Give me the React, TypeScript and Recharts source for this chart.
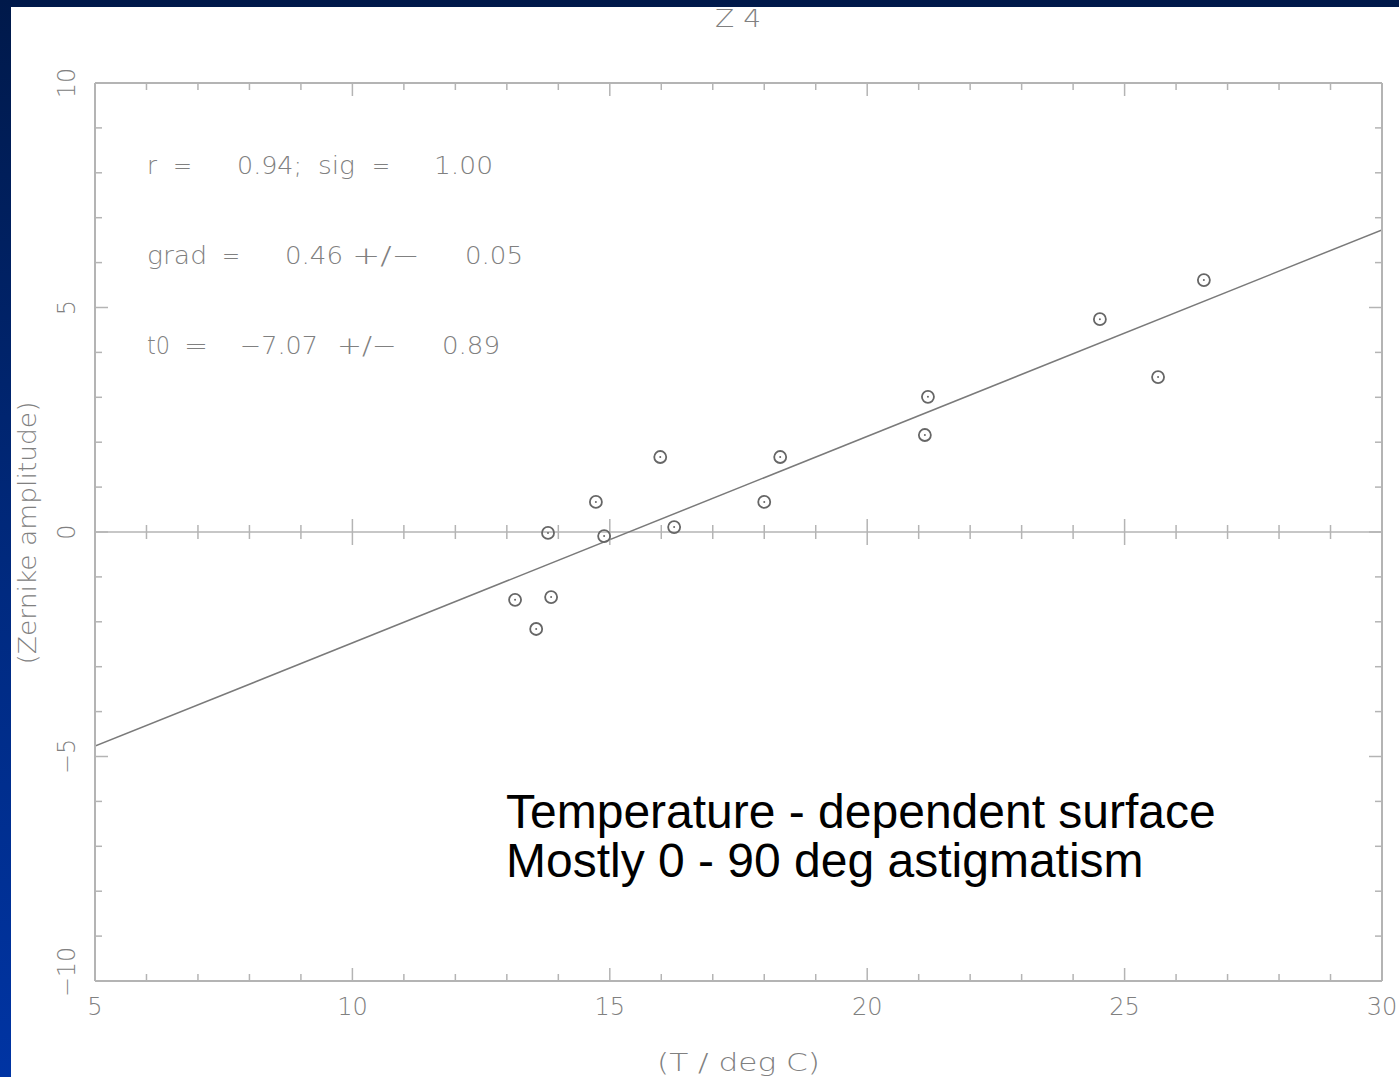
import { ComposedChart, XAxis, YAxis, Line, Scatter, ReferenceLine, Customized } from 'recharts'

// measured points (T in deg C, Zernike amplitude)
const temps = [13.16, 13.57, 13.8, 13.86, 14.73, 14.89, 15.98, 16.25, 18.0, 18.31, 21.12, 21.18, 24.52, 25.65, 26.54]
const amps = [-1.51, -2.16, -0.02, -1.45, 0.67, -0.09, 1.67, 0.11, 0.67, 1.67, 2.16, 3.01, 4.74, 3.45, 5.61]

// fitted line end points
const fitTemps = [5, 30]
const fitAmps = [-4.77, 6.73]

const xTicks = [5, 6, 7, 8, 9, 10, 11, 12, 13, 14, 15, 16, 17, 18, 19, 20, 21, 22, 23, 24, 25, 26, 27, 28, 29, 30]
const yTicks = [-10, -9, -8, -7, -6, -5, -4, -3, -2, -1, 0, 1, 2, 3, 4, 5, 6, 7, 8, 9, 10]

const points = temps.map((t, i) => ({ t, z: amps[i] }))
const fit = fitTemps.map((t, i) => ({ t, z: fitAmps[i] }))
const zeroTicks = xTicks.map((t) => ({ t, z: 0 }))

const AXIS = '#b4b4b4'
const INK = '#808080'
const FONT = '"DejaVu Sans", Verdana, sans-serif'

const fmt = (v: number) => (v < 0 ? '\u2212' + Math.abs(v) : String(v))
const isMajor = (v: number) => v % 5 === 0

function BottomTick({ x, y, payload }: any) {
  const v = payload.value
  return (
    <g>
      <line x1={x} x2={x} y1={y} y2={y - (isMajor(v) ? 13 : 7)} stroke={AXIS} strokeWidth={1.5} />
      {isMajor(v) && (
        <text x={x} y={y + 34} textAnchor="middle" fontSize={24} fontWeight={200} fill={INK} fontFamily={FONT}>
          {v}
        </text>
      )}
    </g>
  )
}

function TopTick({ x, y, payload }: any) {
  const v = payload.value
  return <line x1={x} x2={x} y1={y} y2={y + (isMajor(v) ? 13 : 7)} stroke={AXIS} strokeWidth={1.5} />
}

function LeftTick({ x, y, payload }: any) {
  const v = payload.value
  const lx = x - 28
  // bottom label sits a little above its tick, as in the original plot
  const ly = v === -10 ? y - 9 : y
  return (
    <g>
      <line x1={x} x2={x + (isMajor(v) ? 13 : 7)} y1={y} y2={y} stroke={AXIS} strokeWidth={1.5} />
      {isMajor(v) && (
        <text
          x={lx}
          y={ly}
          transform={`rotate(-90 ${lx} ${ly})`}
          textAnchor="middle"
          dominantBaseline="central"
          fontSize={24}
          fontWeight={200}
          fill={INK}
          fontFamily={FONT}
        >
          {fmt(v)}
        </text>
      )}
    </g>
  )
}

function RightTick({ x, y, payload }: any) {
  const v = payload.value
  return <line x1={x} x2={x - (isMajor(v) ? 13 : 7)} y1={y} y2={y} stroke={AXIS} strokeWidth={1.5} />
}

function Ring({ cx, cy }: any) {
  return (
    <g>
      <circle cx={cx} cy={cy} r={6} fill="none" stroke="#666" strokeWidth={1.8} />
      <circle cx={cx} cy={cy} r={1} fill="#666" />
    </g>
  )
}

function ZeroTick({ cx, cy, payload }: any) {
  const h = isMajor(payload.t) ? 13 : 7
  return <line x1={cx} x2={cx} y1={cy - h} y2={cy + h} stroke={AXIS} strokeWidth={1.5} />
}

const txt = { fontSize: 25, fontWeight: 200, fill: INK, fontFamily: FONT }

function Piece({ x, y, w, s }: { x: number; y: number; w: number; s: string }) {
  return (
    <text x={x} y={y} textLength={w} lengthAdjust="spacingAndGlyphs" {...txt}>
      {s}
    </text>
  )
}

function Overlay() {
  return (
    <g>
      <Piece x={715} y={27} w={46} s="Z 4" />
      <Piece x={147} y={174} w={10} s="r" />
      <Piece x={173} y={174} w={19} s="=" />
      <Piece x={237} y={174} w={65} s="0.94;" />
      <Piece x={318} y={174} w={37} s="sig" />
      <Piece x={372} y={174} w={18} s="=" />
      <Piece x={434} y={174} w={59} s="1.00" />
      <Piece x={147} y={264} w={60} s="grad" />
      <Piece x={222} y={264} w={18} s="=" />
      <Piece x={285} y={264} w={58} s="0.46" />
      <Piece x={352} y={264} w={68} s="+/−" />
      <Piece x={465} y={264} w={58} s="0.05" />
      <Piece x={147} y={354} w={23} s="t0" />
      <Piece x={184} y={354} w={24} s="=" />
      <Piece x={240} y={354} w={78} s="−7.07" />
      <Piece x={337} y={354} w={60} s="+/−" />
      <Piece x={442} y={354} w={58} s="0.89" />
      <Piece x={657} y={1071} w={163} s="(T / deg C)" />
      <text
        x={27}
        y={533}
        transform="rotate(-90 27 533)"
        textAnchor="middle"
        dominantBaseline="central"
        textLength={263}
        lengthAdjust="spacingAndGlyphs"
        {...txt}
      >
        (Zernike amplitude)
      </text>
      <text x={506} y={828} fontSize={48} fill="#000" fontFamily='"Liberation Sans", Arial, sans-serif'>
        Temperature - dependent surface
      </text>
      <text x={506} y={877} fontSize={48} fill="#000" fontFamily='"Liberation Sans", Arial, sans-serif'>
        Mostly 0 - 90 deg astigmatism
      </text>
    </g>
  )
}

export default function App() {
  return (
    <div
      style={{
        position: 'fixed',
        left: 0,
        top: 0,
        width: 1399,
        height: 1077,
        overflow: 'hidden',
        background: 'linear-gradient(to bottom, #00194a 0%, #002a80 55%, #0034a3 100%)',
      }}
    >
      <div style={{ position: 'absolute', left: 11, top: 7, right: 0, bottom: 0, background: '#fff' }} />
      <div style={{ position: 'absolute', left: 0, top: 0 }}>
        <ComposedChart width={1399} height={1077} margin={{ top: 82, right: 16, bottom: 95, left: 94 }}>
          <XAxis
            dataKey="t"
            type="number"
            domain={[5, 30]}
            ticks={xTicks}
            interval={0}
            height={1}
            tickSize={0}
            tickMargin={0}
            tickLine={false}
            axisLine={{ stroke: AXIS, strokeWidth: 2 }}
            tick={<BottomTick />}
            allowDataOverflow
          />
          <XAxis
            xAxisId="top"
            orientation="top"
            dataKey="t"
            type="number"
            domain={[5, 30]}
            ticks={xTicks}
            interval={0}
            height={1}
            tickSize={0}
            tickMargin={0}
            tickLine={false}
            axisLine={{ stroke: AXIS, strokeWidth: 2 }}
            tick={<TopTick />}
            allowDataOverflow
          />
          <YAxis
            dataKey="z"
            type="number"
            domain={[-10, 10]}
            ticks={yTicks}
            interval={0}
            width={1}
            tickSize={0}
            tickMargin={0}
            tickLine={false}
            axisLine={{ stroke: AXIS, strokeWidth: 2 }}
            tick={<LeftTick />}
            allowDataOverflow
          />
          <YAxis
            yAxisId="right"
            orientation="right"
            dataKey="z"
            type="number"
            domain={[-10, 10]}
            ticks={yTicks}
            interval={0}
            width={1}
            tickSize={0}
            tickMargin={0}
            tickLine={false}
            axisLine={{ stroke: AXIS, strokeWidth: 2 }}
            tick={<RightTick />}
            allowDataOverflow
          />
          <ReferenceLine y={0} stroke={AXIS} strokeWidth={1.5} />
          <Scatter data={zeroTicks} dataKey="z" shape={<ZeroTick />} isAnimationActive={false} />
          <Line
            data={fit}
            dataKey="z"
            type="linear"
            stroke="#7a7a7a"
            strokeWidth={1.5}
            dot={false}
            activeDot={false}
            isAnimationActive={false}
          />
          <Scatter data={points} dataKey="z" shape={<Ring />} isAnimationActive={false} />
          <Customized component={<Overlay />} />
        </ComposedChart>
      </div>
    </div>
  )
}
